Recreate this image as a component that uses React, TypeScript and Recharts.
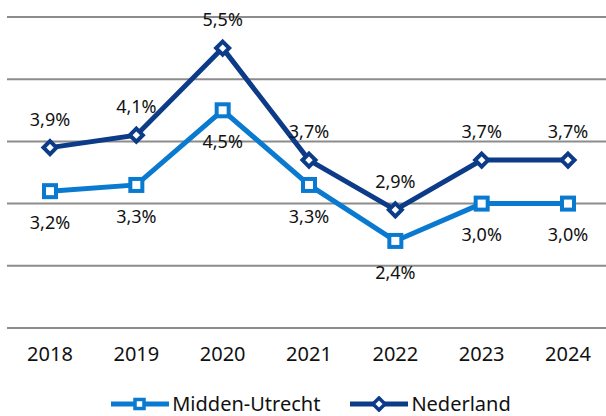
import {
  LineChart,
  Line,
  XAxis,
  YAxis,
  CartesianGrid,
  Legend,
  LabelList,
} from "recharts";

const years = ["2018", "2019", "2020", "2021", "2022", "2023", "2024"];
const middenUtrecht = [3.2, 3.3, 4.5, 3.3, 2.4, 3.0, 3.0];
const nederland = [3.9, 4.1, 5.5, 3.7, 2.9, 3.7, 3.7];
const yTicks = [1, 2, 3, 4, 5, 6];

const MIDDEN = "#0a7ad1";
const NL = "#0c3b88";
const FONT = "'Noto Sans', sans-serif";

const data = years.map((year, i) => ({
  year,
  midden: middenUtrecht[i],
  nl: nederland[i],
}));

const fmt = (v: number) => `${v.toFixed(1).replace(".", ",")}%`;

function SquareDot(props: any) {
  const { cx, cy } = props;
  if (cx == null || cy == null) return null;
  return (
    <rect x={cx - 6} y={cy - 6} width={12} height={12} fill="#fff" stroke={MIDDEN} strokeWidth={4} />
  );
}

function DiamondDot(props: any) {
  const { cx, cy } = props;
  if (cx == null || cy == null) return null;
  const r = 6.5;
  return (
    <path
      d={`M${cx},${cy - r}L${cx + r},${cy}L${cx},${cy + r}L${cx - r},${cy}Z`}
      fill="#fff"
      stroke={NL}
      strokeWidth={4}
      strokeLinejoin="miter"
    />
  );
}

function LegendContent() {
  const item = (label: string, color: string, square: boolean) => (
    <div style={{ display: "flex", alignItems: "center", marginRight: 30 }}>
      <svg width={58} height={16} style={{ marginRight: 3 }}>
        <line x1={0} y1={8} x2={58} y2={8} stroke={color} strokeWidth={5} />
        {square ? (
          <rect x={24} y={3.5} width={9} height={9} fill="#fff" stroke={color} strokeWidth={3.5} />
        ) : (
          <path d="M29,2L35,8L29,14L23,8Z" fill="#fff" stroke={color} strokeWidth={3.5} />
        )}
      </svg>
      <span style={{ fontSize: 20, color: "#111", lineHeight: "24px" }}>{label}</span>
    </div>
  );
  return (
    <div
      style={{
        height: 48,
        paddingTop: 24,
        boxSizing: "border-box",
        display: "flex",
        justifyContent: "center",
        paddingLeft: 34,
        fontFamily: FONT,
      }}
    >
      {item("Midden-Utrecht", MIDDEN, true)}
      {item("Nederland", NL, false)}
    </div>
  );
}

export default function App() {
  return (
    <div
      style={{
        position: "absolute",
        left: 0,
        top: 0,
        width: 606,
        height: 416,
        overflow: "hidden",
        background: "#fff",
        fontFamily: FONT,
      }}
    >
      <LineChart
        width={612}
        height={416}
        data={data}
        margin={{ top: 17, right: 1, left: 7, bottom: 0 }}
      >
        <CartesianGrid horizontal vertical={false} stroke="#8c8c8c" strokeWidth={2} />
        <XAxis
          dataKey="year"
          axisLine={false}
          tickLine={false}
          height={40}
          tickMargin={13}
          padding={{ left: 43, right: 43 }}
          interval={0}
          tick={{ fontSize: 20, fill: "#111", fontFamily: FONT }}
        />
        <YAxis hide domain={[1, 6]} ticks={yTicks} />
        <Legend verticalAlign="bottom" content={<LegendContent />} />
        <Line
          dataKey="midden"
          name="Midden-Utrecht"
          stroke={MIDDEN}
          strokeWidth={5}
          dot={<SquareDot />}
          activeDot={false}
          isAnimationActive={false}
        >
          <LabelList
            dataKey="midden"
            position="bottom"
            offset={25}
            formatter={(v: any) => fmt(Number(v))}
            style={{ fontSize: 18, fill: "#111", fontFamily: FONT }}
          />
        </Line>
        <Line
          dataKey="nl"
          name="Nederland"
          stroke={NL}
          strokeWidth={5}
          dot={<DiamondDot />}
          activeDot={false}
          isAnimationActive={false}
        >
          <LabelList
            dataKey="nl"
            position="top"
            offset={22}
            formatter={(v: any) => fmt(Number(v))}
            style={{ fontSize: 18, fill: "#111", fontFamily: FONT }}
          />
        </Line>
      </LineChart>
    </div>
  );
}
